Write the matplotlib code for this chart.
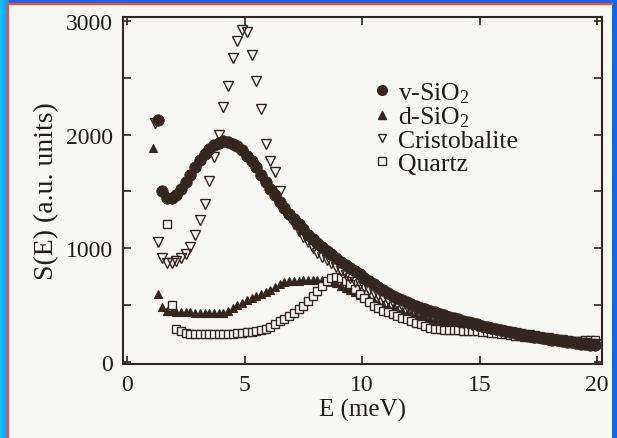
import numpy as np
import matplotlib
matplotlib.use("Agg")
import matplotlib.pyplot as plt
from matplotlib.patches import Rectangle
from matplotlib.lines import Line2D

plt.rcParams['font.family'] = ['Liberation Serif', 'DejaVu Serif']
plt.rcParams['mathtext.fontset'] = 'custom'
plt.rcParams['mathtext.rm'] = 'Liberation Serif'
plt.rcParams['mathtext.default'] = 'regular'

# ---------------- data ----------------
E_v = [1.3, 1.5, 1.7, 1.9, 2.1, 2.3, 2.5, 2.7, 2.9, 3.1, 3.3, 3.5, 3.7, 3.9, 4.1, 4.3, 4.5, 4.7, 4.9,
       5.1, 5.3, 5.5, 5.7, 5.9, 6.1, 6.3, 6.5, 6.7, 6.9, 7.1, 7.3, 7.5, 7.7, 7.9, 8.1, 8.3, 8.5, 8.7, 8.9,
       9.1, 9.3, 9.5, 9.7, 9.9, 10.1, 10.3, 10.5, 10.7, 10.9, 11.1, 11.3, 11.5, 11.7, 11.9, 12.1, 12.3,
       12.5, 12.7, 12.9, 13.1, 13.3, 13.5, 13.7, 13.9, 14.1, 14.3, 14.5, 14.7, 14.9, 15.1, 15.3, 15.5,
       15.7, 15.9, 16.1, 16.3, 16.5, 16.7, 16.9, 17.1, 17.3, 17.5, 17.7, 17.9, 18.1, 18.3, 18.5, 18.7,
       18.9, 19.1, 19.3, 19.5, 19.7, 19.9]
S_v = [2130, 1500, 1440, 1445, 1470, 1525, 1585, 1645, 1710, 1775, 1830, 1870, 1905, 1930, 1940, 1935,
       1920, 1895, 1860, 1815, 1765, 1710, 1645, 1580, 1520, 1465, 1410, 1355, 1305, 1255, 1210, 1165,
       1120, 1080, 1045, 1010, 978, 948, 915, 882, 852, 822, 795, 768, 740, 710, 680, 655, 630, 605, 582,
       560, 540, 522, 505, 490, 475, 460, 447, 434, 421, 409, 397, 385, 373, 361, 350, 339, 328, 317, 307,
       297, 288, 279, 271, 263, 255, 246, 238, 230, 222, 214, 207, 200, 194, 188, 182, 176, 171, 162, 157,
       152, 148, 144]

E_d = [1.1, 1.3, 1.5, 1.7, 1.9, 2.1, 2.3, 2.5, 2.7, 2.9, 3.1, 3.3, 3.5, 3.7, 3.9, 4.1, 4.3, 4.5, 4.7,
       4.9, 5.1, 5.3, 5.5, 5.7, 5.9, 6.1, 6.3, 6.5, 6.7, 6.9, 7.1, 7.3, 7.5, 7.7, 7.9, 8.1, 8.3, 8.5, 8.7,
       8.9, 9.1, 9.3, 9.5, 9.7, 9.9, 10.1, 10.3, 10.5, 10.7, 10.9, 11.1, 11.3, 11.5, 11.7, 11.9, 12.1,
       12.3, 12.5, 12.7, 12.9, 13.1, 13.3, 13.5, 13.7, 13.9, 14.1, 14.3, 14.5, 14.7, 14.9, 15.1, 15.3,
       15.5, 15.7, 15.9, 16.1, 16.3, 16.5, 16.7, 16.9, 17.1, 17.3, 17.5, 17.7, 17.9, 18.1, 18.3, 18.5,
       18.7, 18.9, 19.1, 19.3, 19.5, 19.7, 19.9]
S_d = [1880, 600, 480, 450, 445, 440, 440, 435, 435, 432, 430, 430, 428, 428, 425, 430, 450, 475, 500,
       520, 540, 560, 580, 600, 615, 635, 660, 685, 700, 710, 712, 715, 718, 720, 722, 720, 718, 715, 705,
       690, 670, 650, 630, 610, 588, 568, 550, 532, 515, 499, 484, 470, 457, 445, 433, 422, 411, 400, 390,
       380, 370, 361, 352, 343, 335, 327, 319, 311, 303, 295, 288, 281, 274, 267, 260, 253, 246, 240, 233,
       227, 221, 215, 209, 203, 197, 191, 186, 181, 176, 171, 166, 161, 156, 152, 148]

E_c = [1.2, 1.3, 1.5, 1.7, 1.9, 2.1, 2.3, 2.5, 2.7, 2.9, 3.1, 3.3, 3.5, 3.7, 3.9, 4.1, 4.3, 4.5, 4.7,
       4.9, 5.1, 5.3, 5.5, 5.7, 5.9, 6.1, 6.3, 6.5, 6.7, 6.9, 7.1, 7.3, 7.5, 7.7, 7.9, 8.1, 8.3, 8.5, 8.7,
       8.9, 9.1, 9.3, 9.5, 9.7, 9.9, 10.1, 10.3, 10.5, 10.7, 10.9, 11.1, 11.3, 11.5, 11.7, 11.9, 12.1,
       12.3, 12.5, 12.7, 12.9, 13.1, 13.3, 13.5, 13.7, 13.9, 14.1, 14.3, 14.5, 14.7, 14.9, 15.1, 15.3,
       15.5, 15.7, 15.9, 16.1, 16.3, 16.5, 16.7, 16.9, 17.1, 17.3, 17.5, 17.7, 17.9, 18.1, 18.3, 18.5,
       18.7, 18.9, 19.1, 19.3, 19.5, 19.7, 19.9]
S_c = [2100, 1050, 910, 870, 870, 885, 910, 950, 1010, 1120, 1245, 1390, 1595, 1800, 2000, 2240, 2425,
       2670, 2825, 2920, 2905, 2700, 2475, 2225, 1920, 1765, 1670, 1500, 1340, 1280, 1210, 1150, 1100,
       1050, 1000, 960, 925, 895, 865, 830, 795, 765, 735, 705, 680, 655, 630, 608, 585, 565, 545, 527,
       510, 493, 478, 463, 450, 437, 425, 413, 402, 391, 380, 370, 360, 350, 340, 331, 322, 313, 305, 297,
       289, 281, 273, 266, 259, 252, 245, 238, 231, 224, 217, 211, 205, 199, 193, 188, 183, 178, 173, 168,
       164, 160, 156]

E_q = [1.7, 1.9, 2.1, 2.3, 2.5, 2.7, 2.9, 3.1, 3.3, 3.5, 3.7, 3.9, 4.1, 4.3, 4.5, 4.7, 4.9, 5.1, 5.3,
       5.5, 5.7, 5.9, 6.1, 6.3, 6.5, 6.7, 6.9, 7.1, 7.3, 7.5, 7.7, 7.9, 8.1, 8.3, 8.5, 8.7, 8.9, 9.1, 9.3,
       9.5, 9.7, 9.9, 10.1, 10.3, 10.5, 10.7, 10.9, 11.1, 11.3, 11.5, 11.7, 11.9, 12.1, 12.3, 12.5, 12.7,
       12.9, 13.1, 13.3, 13.5, 13.7, 13.9, 14.1, 14.3, 14.5, 14.7, 14.9, 15.1, 15.3, 15.5, 15.7, 15.9,
       16.1, 16.3, 16.5, 16.7, 16.9, 17.1, 17.3, 17.5, 17.7, 17.9, 18.1, 18.3, 18.5, 18.7, 18.9, 19.1,
       19.3, 19.5, 19.7, 19.9]
S_q = [1210, 500, 290, 270, 255, 248, 245, 245, 243, 243, 245, 243, 245, 245, 247, 250, 255, 260, 265,
       272, 280, 292, 310, 330, 355, 380, 405, 430, 460, 495, 535, 580, 625, 670, 710, 735, 745, 740, 715,
       680, 640, 600, 565, 530, 495, 470, 450, 435, 418, 400, 385, 372, 360, 345, 330, 315, 300, 292, 287,
       283, 280, 277, 275, 273, 272, 270, 268, 264, 260, 255, 250, 245, 240, 235, 230, 225, 220, 215, 210,
       205, 200, 196, 192, 189, 186, 184, 183, 183, 185, 188, 190, 190]

x_ticks = [0, 5, 10, 15, 20]
y_ticks = [0, 1000, 2000, 3000]
labels = ["v-SiO$_2$", "d-SiO$_2$", "Cristobalite", "Quartz"]

# ---------------- figure ----------------
W, H = 617, 439
fig = plt.figure(figsize=(W / 100, H / 100), dpi=100)

# blue screen border
bg = fig.add_axes([0, 0, 1, 1])
bg.set_axis_off()
img = np.zeros((H, W, 3))
base = np.array([0x14, 0x64, 0xee]) / 255
cyan = np.array([0x14, 0xc4, 0xff]) / 255
img[:, :] = base
for i in range(9):
    t = i / 8
    img[:, i] = cyan * (1 - t) + np.array([0x18, 0x90, 0xf8]) / 255 * t
bg.imshow(img, aspect='auto', extent=[0, 1, 0, 1])
bg.set_xlim(0, 1)
bg.set_ylim(0, 1)

page_color = '#f8f8f4'
x0, x1, ytop = 8 / W, 612 / W, (H - 5) / H
fig.patches.append(Rectangle((x0, -0.02), x1 - x0, ytop + 0.02,
                             transform=fig.transFigure, facecolor=page_color,
                             edgecolor='none', zorder=1))
fig.lines.append(Line2D([x0, x0, x1], [0, ytop, ytop], transform=fig.transFigure,
                        color='#ff4a22', linewidth=1.6, zorder=1.5))

ink = '#33261f'
txt = '#1f1c1a'
ax = fig.add_axes([123 / W, (H - 365) / H, (602 - 123) / W, (365 - 18) / H])
ax.set_facecolor('none')
ax.set_zorder(5)

ax.plot(E_d, S_d, linestyle='none', marker='^', ms=5.8, mfc=ink, mec=ink, mew=0.8, zorder=2)
ax.plot(E_q, S_q, linestyle='none', marker='s', ms=6, mfc=page_color, mec=ink, mew=1.0, zorder=3)
ax.plot(E_v, S_v, linestyle='none', marker='o', ms=8.3, mfc=ink, mec=ink, mew=0.5, zorder=4)
ax.plot(E_c, S_c, linestyle='none', marker='v', ms=7.2, mfc='none', mec=ink, mew=1.0, zorder=5)

ax.set_xlim(-0.17, 20.21)
ax.set_ylim(-20, 3035)
ax.set_xticks(x_ticks)
ax.set_yticks(y_ticks)
ax.set_yticks([500, 1500, 2500], minor=True)
ax.tick_params(which='both', direction='in', top=True, right=True, length=6, width=1.2,
               color=ink, labelsize=17, labelcolor=txt, pad=7)
for s in ax.spines.values():
    s.set_color(ink)
    s.set_linewidth(1.5)

ax.set_xlabel("E (meV)", fontsize=18, color=txt, labelpad=2)
ax.set_ylabel("S(E) (a.u. units)", fontsize=20, color=txt, labelpad=5)

handles = [
    Line2D([], [], linestyle='none', marker='o', ms=7, mfc=ink, mec=ink),
    Line2D([], [], linestyle='none', marker='^', ms=5.5, mfc=ink, mec=ink),
    Line2D([], [], linestyle='none', marker='v', ms=6, mfc='none', mec=ink, mew=1.0),
    Line2D([], [], linestyle='none', marker='s', ms=6, mfc='none', mec=ink, mew=1.0),
]
leg = ax.legend(handles, labels, loc='upper left', bbox_to_anchor=(0.492, 0.855), frameon=False,
                fontsize=18.5, handlelength=0.8, handletextpad=0.25, labelspacing=0.0, borderpad=0)
for t in leg.get_texts():
    t.set_color(txt)

fig.savefig("out.png", dpi=100)
